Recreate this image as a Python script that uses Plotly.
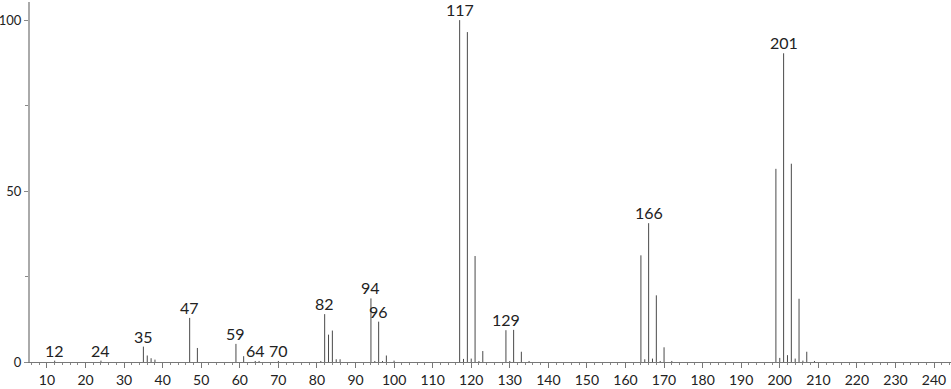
import plotly.graph_objects as go

# m/z values and relative intensities
mz = [12, 24, 35, 36, 37, 38, 47, 49, 59, 61, 64, 65, 70, 81, 82, 83, 84, 85, 86,
      94, 95, 96, 97, 98, 100, 117, 118, 119, 120, 121, 122, 123, 129, 130, 131,
      133, 135, 164, 165, 166, 167, 168, 169, 170, 172, 199, 200, 201, 202, 203,
      204, 205, 206, 207, 209]
intensity = [0.4, 0.4, 4.5, 1.9, 1.1, 0.7, 12.9, 4.1, 5.3, 1.7, 0.3, 0.3, 0.3, 0.3,
             14.0, 8.0, 9.2, 0.8, 0.8, 18.6, 0.3, 11.8, 0.3, 1.9, 0.4, 100.0, 0.9,
             96.5, 1.0, 31.0, 0.3, 3.2, 9.3, 0.3, 9.4, 3.0, 0.3, 31.2, 0.8, 40.6,
             1.0, 19.5, 0.3, 4.3, 0.3, 56.5, 1.2, 90.3, 2.0, 58.0, 1.0, 18.5, 0.4,
             3.0, 0.3]

# labelled peaks
label_mz = [12, 24, 35, 47, 59, 64, 70, 82, 94, 96, 117, 129, 166, 201]

xs, ys = [], []
for m, v in zip(mz, intensity):
    xs += [m, m, None]
    ys += [0, v, None]

fig = go.Figure()
fig.add_trace(go.Scatter(x=xs, y=ys, mode="lines",
                         line=dict(color="#4a4a4a", width=1),
                         hoverinfo="skip", showlegend=False))

inten = dict(zip(mz, intensity))
for m in label_mz:
    fig.add_annotation(x=m, y=inten[m], text=str(m), showarrow=False,
                       xanchor="center", yanchor="bottom", yshift=-1,
                       font=dict(family="Lato", size=16, color="#222"))

fig.update_layout(
    width=951, height=389,
    margin=dict(l=30, r=0, t=2, b=27),
    paper_bgcolor="white", plot_bgcolor="white",
    font=dict(family="Lato", size=14, color="#222"),
    xaxis=dict(range=[5.6, 244.4], tickmode="linear", tick0=0, dtick=10,
               automargin=False,
               showgrid=False, zeroline=False, showline=True,
               linecolor="#777", linewidth=1,
               ticks="outside", ticklen=5, tickcolor="#777", tickwidth=1,
               ticklabelstandoff=0,
               tickfont=dict(family="Lato", size=14, color="#222"),
               minor=dict(dtick=2, tick0=0, ticks="outside", ticklen=2,
                          tickcolor="#888", showgrid=False)),
    yaxis=dict(range=[0, 105.3], tickvals=[0, 50, 100],
               automargin=False,
               showgrid=False, zeroline=False, showline=True,
               linecolor="#aaa", linewidth=2,
               ticks="outside", ticklen=4, tickcolor="#888", tickwidth=1,
               ticklabelstandoff=0,
               tickfont=dict(family="Lato", size=13, color="#222"),
               minor=dict(tickvals=[25, 75], ticks="outside", ticklen=3,
                          tickcolor="#888", showgrid=False)),
)

fig.write_html("out.html")
